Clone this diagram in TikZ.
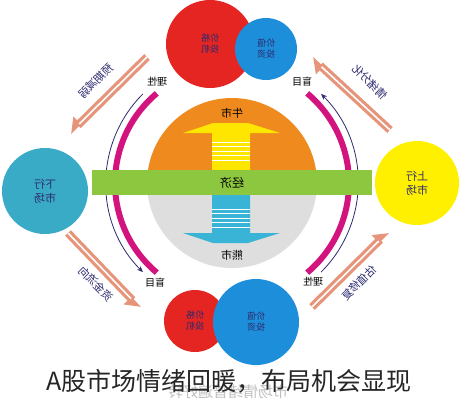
\documentclass[tikz,border=0pt]{standalone}
\usepackage{fontspec}
\newfontfamily\cjk{Noto Sans CJK SC}
\usetikzlibrary{arrows.meta, calc, positioning}
\definecolor{matred}{HTML}{E42521}
\definecolor{matblue}{HTML}{1D8FDA}
\definecolor{matteal}{HTML}{3AABC6}
\definecolor{matyellow}{HTML}{FFF000}
\definecolor{matorange}{HTML}{EF8A1E}
\definecolor{matgrey}{HTML}{DEDEDE}
\definecolor{matgreen}{HTML}{8DC63F}
\definecolor{matlemon}{HTML}{FFE600}
\definecolor{matcyan}{HTML}{3AB4D6}
\definecolor{matpink}{HTML}{D4147E}
\definecolor{matsalmon}{HTML}{E6957A}
\definecolor{matnavy}{HTML}{2C2B70}
\newcommand\Mir[1]{\reflectbox{#1}}
\newcommand\DrawBall[5]{%
\node[ball, fill=#2, minimum size=#3] (#1) at (#4) {#5};
}
\newcommand\DrawFlow[3]{%
\draw[flow, #3] (#1) -- (#2);
\draw[flowcore] (#1) -- ($(#2)!13pt!(#1)$);
}
\tikzset{
  ball/.style={circle, inner sep=0pt, align=center, text=matnavy, font={\cjk\fontsize{9}{11}\selectfont}},
  side/.style={ball, font={\cjk\fontsize{11}{14}\selectfont}},
  flow/.style={matsalmon, line width=8pt},
  tipl/.style={-{Triangle[width=18pt,length=12pt,harpoon]}},
  tipr/.style={-{Triangle[width=18pt,length=12pt,harpoon,swap]}},
  flowcore/.style={white, line width=1.6pt},
  flowtext/.style={font={\cjk\fontsize{11}{12}\selectfont}, text=matnavy, inner sep=1pt},
  pinkarc/.style={matpink, line width=6pt},
  thinarc/.style={matnavy, line width=0.8pt},
  mood/.style={font={\cjk\fontsize{10}{12}\selectfont}, inner sep=1pt}
}

\begin{document}
\begin{tikzpicture}[x=1pt, y=1pt]
  \useasboundingbox (0,0) rectangle (460,400);
  \coordinate (mid) at (232,217);

  \draw[pinkarc] ([shift={(130:117)}]mid) arc[start angle=130, end angle=230, radius=117];
  \draw[pinkarc] ([shift={(-50:117)}]mid) arc[start angle=-50, end angle=50, radius=117];
  \draw[thinarc, -{Stealth[length=6pt,width=5pt]}] ([shift={(135:126)}]mid) arc[start angle=135, end angle=225, radius=126];
  \draw[thinarc, -{Stealth[length=6pt,width=5pt]}] ([shift={(-45:126)}]mid) arc[start angle=-45, end angle=45, radius=126];

  \fill[matorange] ([shift={(180:85)}]mid) arc[start angle=180, end angle=0, radius=85] -- cycle;
  \fill[matgrey] ([shift={(180:85)}]mid) arc[start angle=180, end angle=360, radius=85] -- cycle;

  % bull
  \fill[matlemon] (212,230) -- (212,267) -- (183,267) -- (213,277) -- (248,277) -- (280,267) -- (250,267) -- (250,230) -- cycle;
  \foreach \y in {240,244.5,...,262}
    \draw[white, line width=0.7pt] (212,\y) -- (250,\y);
  \node[mood, font={\cjk\fontsize{11}{12}\selectfont}] (bull) at (232,287) {\Mir{牛市}};

  % bear
  \fill[matcyan] (212,205) -- (212,167) -- (183,167) -- (213,157) -- (248,157) -- (280,167) -- (250,167) -- (250,205) -- cycle;
  \foreach \y in {173,177.5,...,195}
    \draw[white, line width=0.7pt] (212,\y) -- (250,\y);
  \node[mood, font={\cjk\fontsize{11}{12}\selectfont}] (bear) at (232,145) {\Mir{熊市}};

  \node[fill=matgreen, minimum width=280pt, minimum height=25pt, inner sep=0pt,
        font={\cjk\fontsize{12}{14}\selectfont}] (econ) at (232,217.5) {\Mir{经济}};

  \DrawBall{topRed}{matred}{88pt}{210,356}{\Mir{价格}\\\Mir{投机}}
  \DrawBall{topBlue}{matblue}{62pt}{266,351}{\Mir{价值}\\\Mir{投资}}
  \DrawBall{lowRed}{matred}{62pt}{195,79}{\Mir{价格}\\\Mir{投机}}
  \DrawBall{lowBlue}{matblue}{86pt}{256,78}{\Mir{价值}\\\Mir{投资}}
  \node[side, fill=matteal, minimum size=86pt] (down) at (45,209) {\Mir{下行}\\\Mir{市场}};
  \node[side, fill=matyellow, minimum size=84pt] (up) at (417,217) {\Mir{上行}\\\Mir{市场}};

  \node[mood] (ratL) at (157,318) {\Mir{理性}};
  \node[mood] (blindL) at (155,117) {\Mir{盲目}};
  \node[mood] (blindR) at (302,318) {\Mir{盲目}};
  \node[mood] (ratR) at (313,118) {\Mir{理性}};

  \coordinate (tlA) at (147,343); \coordinate (tlB) at (70,267);
  \coordinate (trA) at (390,270); \coordinate (trB) at (312,342);
  \coordinate (blA) at (68,167);  \coordinate (blB) at (140,92);
  \coordinate (brA) at (312,93);  \coordinate (brB) at (388,168);
  \DrawFlow{tlA}{tlB}{tipr}
  \DrawFlow{trA}{trB}{tipl}
  \DrawFlow{blA}{blB}{tipr}
  \DrawFlow{brA}{brB}{tipl}
  \node[flowtext, rotate=45] (tlT) at (96,319) {\Mir{预期减弱}};
  \node[flowtext, rotate=-45] (trT) at (370,318) {\Mir{情绪分化}};
  \node[flowtext, rotate=-45] (blT) at (96,116) {\Mir{资金流向}};
  \node[flowtext, rotate=45] (brT) at (359,117) {\Mir{估值修复}};

  \node[text=black!25, font={\cjk\fontsize{15}{16}\selectfont}] (shadow) at (228,8) {\Mir{市场情绪普遍好转}};
  \node[text=black!85, font={\cjk\fontsize{25}{26}\selectfont}] (title) at (229,19) {A股市场情绪回暖，布局机会显现};
\end{tikzpicture}
\end{document}
